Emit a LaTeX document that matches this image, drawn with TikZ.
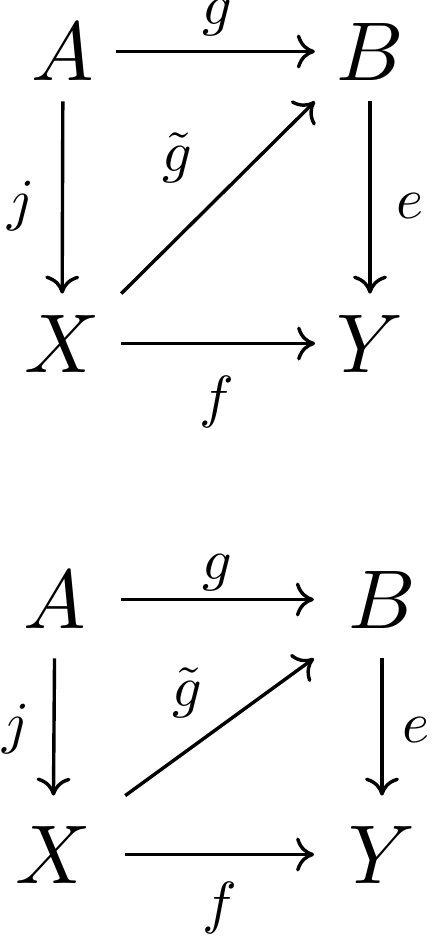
\documentclass[tikz,border=0pt]{standalone}
\usepackage{graphicx}
\usepackage{tikz}
\usetikzlibrary{arrows.meta}
\newcommand{\objtxt}[1]{\scalebox{4.17}{$#1$}}
\newcommand{\lbltxt}[1]{\scalebox{2.9}{$#1$}}
\tikzset{
    obj/.style={anchor=base},
    lbl/.style={anchor=base, inner sep=0pt},
    map/.style={-{To[length=9pt,width=17pt]}, line width=1.7pt}
}

\begin{document}
\begin{tikzpicture}[x=0.5pt, y=-0.5pt]
    \useasboundingbox (0,0) rectangle (436,938);
    % upper square
    \node[obj, inner xsep=10.5pt, inner ysep=10.5pt] (A1) at (63,80) {\objtxt{A}};
    \node[obj, inner xsep=10.5pt, inner ysep=10.5pt] (B1) at (370,80) {\objtxt{B}};
    \node[obj, inner xsep=10.5pt, inner ysep=10.5pt] (X1) at (62,372) {\objtxt{X}};
    \node[obj, inner xsep=10.5pt, inner ysep=10.5pt] (Y1) at (370,372) {\objtxt{Y}};
    \draw[map] (A1) -- (B1);
    \draw[map] (A1) -- (X1);
    \draw[map] (B1) -- (Y1);
    \draw[map] (X1) -- (Y1);
    \draw[map] (X1.north east) -- (B1.south west);
    \node[lbl] (g1) at (217,24) {\lbltxt{g}};
    \node[lbl] (gt1) at (177,171) {\lbltxt{\tilde g}};
    \node[lbl] (j1) at (21,219) {\lbltxt{j}};
    \node[lbl] (e1) at (410,218) {\lbltxt{e}};
    \node[lbl] (f1) at (217,416) {\lbltxt{f}};
    % lower square
    \node[obj, inner xsep=17pt, inner ysep=15pt] (A2) at (55,628) {\objtxt{A}};
    \node[obj, inner xsep=17pt, inner ysep=15pt] (B2) at (382,628) {\objtxt{B}};
    \node[obj, inner xsep=17pt, inner ysep=15pt] (X2) at (53,883) {\objtxt{X}};
    \node[obj, inner xsep=17pt, inner ysep=15pt] (Y2) at (382,883) {\objtxt{Y}};
    \draw[map] (A2) -- (B2);
    \draw[map] (A2) -- (X2);
    \draw[map] (B2) -- (Y2);
    \draw[map] (X2) -- (Y2);
    \draw[map] (X2.north east) -- (B2.south west);
    \node[lbl] (g2) at (217,579) {\lbltxt{g}};
    \node[lbl] (gt2) at (187,706) {\lbltxt{\tilde g}};
    \node[lbl] (j2) at (16,742) {\lbltxt{j}};
    \node[lbl] (e2) at (416,742) {\lbltxt{e}};
    \node[lbl] (f2) at (220,922) {\lbltxt{f}};
\end{tikzpicture}
\end{document}
